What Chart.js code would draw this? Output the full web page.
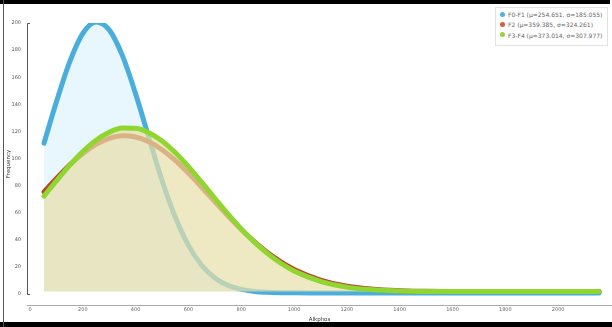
<!DOCTYPE html>
<html>
<head>
<meta charset="utf-8">
<script src="https://cdn.jsdelivr.net/npm/chart.js@4/dist/chart.umd.min.js"></script>
<style>
  html, body { margin: 0; padding: 0; background: #fff; }
  #wrap { position: relative; width: 612px; height: 327px; overflow: hidden; background: #fff; }
  #c { position: absolute; left: 0; top: 0; }
  .bar { position: absolute; background: #000; }
  #legend { position: absolute; left: 495px; top: 7px; width: 113px; height: 39px; border: 1px solid #e2e2e2; background: #fff; box-sizing: border-box; font-family: "DejaVu Sans", sans-serif; font-size: 6px; color: #666; }
  .item { position: absolute; left: 4px; height: 8px; line-height: 8px; white-space: nowrap; }
  .dot { display: inline-block; width: 5px; height: 5px; border-radius: 50%; vertical-align: middle; margin-right: 3px; position: relative; top: -1px; }
</style>
</head>
<body>
<div id="wrap">
  <canvas id="c" width="612" height="327"></canvas>
  <div id="legend"></div>
  <div class="bar" style="left:0;top:0;width:610px;height:4px;"></div>
  <div class="bar" style="left:0;top:322px;width:612px;height:5px;"></div>
  <div class="bar" style="left:3px;top:0;width:1px;height:327px;background:#555;"></div>
</div>
<script>
const xValues = [53,100,150,200,250,300,350,400,450,500,550,600,650,700,750,800,850,900,950,1000,1100,1200,1300,1400,1500,1600,1800,2000,2155];
const seriesNames = ["F0-F1 (\u03bc=254.651, \u03c3=185.055)", "F2 (\u03bc=359.385, \u03c3=324.261)", "F3-F4 (\u03bc=373.014, \u03c3=307.977)"];
const blueValues = [111.3,141.9,171.2,192.3,200.7,194.9,175.9,147.7,115.4,83.8,56.8,35.9,21.2,11.9,6.4,3.4,1.9,1.3,1.0,0.85,0.8,0.8,0.8,0.8,0.8,0.8,0.8,0.8,0.8];
const redValues = [75.4,85.3,95.2,103.7,110.4,114.9,116.8,115.9,112.4,106.5,98.6,89.1,78.8,68.0,57.5,47.5,38.4,30.4,23.7,18.1,10.3,5.8,3.5,2.5,2.0,1.9,1.8,1.8,1.8];
const greenValues = [72.3,83.5,94.9,105.1,113.5,119.4,122.5,122.3,119.1,112.9,104.4,94.0,82.5,70.7,59.0,48.1,38.3,29.8,22.7,17.0,9.3,5.1,3.1,2.3,1.9,1.8,1.8,1.8,1.8];
const xTicks = [0,200,400,600,800,1000,1200,1400,1600,1800,2000];
const yTicks = [0,20,40,60,80,100,120,140,160,180,200];

const lineColors = ["#4aaedc", "#b8452c", "#8fd630"];
const legendColors = ["#4fb3e0", "#de5a3c", "#9ad43a"];

function pts(vals) { return xValues.map((x, i) => ({ x: x, y: vals[i] })); }

const base = { pointRadius: 0, borderWidth: 5, borderCapStyle: 'round', borderJoinStyle: 'round', cubicInterpolationMode: 'monotone' };

const datasets = [
  Object.assign({}, base, { label: seriesNames[0], data: pts(blueValues), borderColor: lineColors[0], backgroundColor: 'rgba(100,195,240,0.15)', fill: { value: 1.8 }, order: 3 }),
  Object.assign({}, base, { label: seriesNames[1], data: pts(redValues), borderColor: lineColors[1], fill: false, order: 2 }),
  Object.assign({}, base, { label: seriesNames[2], data: pts(greenValues), borderColor: lineColors[2], backgroundColor: 'rgba(232,224,170,0.71)', fill: { value: 1.8 }, order: 1 })
];

const axisPlugin = {
  id: 'yAxisLine',
  afterDraw(chart) {
    const ctx = chart.ctx, y = chart.scales.y, x0 = chart.chartArea.left;
    const top = y.getPixelForValue(200), bot = y.getPixelForValue(0);
    ctx.save();
    ctx.strokeStyle = '#555';
    ctx.lineWidth = 1;
    ctx.beginPath();
    ctx.moveTo(x0 + 3, top + 0.5); ctx.lineTo(x0 + 0.5, top + 0.5);
    ctx.lineTo(x0 + 0.5, bot + 0.5); ctx.lineTo(x0 + 3, bot + 0.5);
    ctx.stroke();
    ctx.restore();
  }
};

new Chart(document.getElementById('c'), {
  type: 'line',
  data: { datasets: datasets },
  plugins: [axisPlugin],
  options: {
    responsive: false,
    animation: false,
    layout: { padding: { top: 23, right: 0, left: 0, bottom: 0 } },
    plugins: {
      legend: { display: false },
      tooltip: { enabled: false },
      filler: { drawTime: 'beforeDatasetDraw' }
    },
    scales: {
      x: {
        type: 'linear', min: -11.4, max: 2204,
        afterBuildTicks: s => { s.ticks = xTicks.map(v => ({ value: v })); },
        afterFit: s => { s.height = 22; },
        grid: { display: false, drawTicks: false },
        border: { display: true, color: '#aaa', width: 1 },
        ticks: { padding: 2, color: '#666', font: { family: 'DejaVu Sans', size: 5 }, maxRotation: 0, autoSkip: false, callback: v => String(v) },
        title: { display: true, text: 'Alkphos', color: '#333', font: { family: 'DejaVu Sans', size: 5.5 }, padding: { top: 0, bottom: 4 } }
      },
      y: {
        type: 'linear', min: -8.1, max: 200,
        afterBuildTicks: s => { s.ticks = yTicks.map(v => ({ value: v })); },
        afterFit: s => { s.width = 27; },
        grid: { display: false, drawTicks: false },
        border: { display: false },
        ticks: { padding: 6, color: '#555', font: { family: 'DejaVu Sans', size: 5 }, callback: v => String(v) },
        title: { display: true, text: 'Frequency', color: '#333', font: { family: 'DejaVu Sans', size: 5.5 }, padding: { top: 5, bottom: 0 } }
      }
    }
  }
});

const legend = document.getElementById('legend');
seriesNames.forEach((name, i) => {
  const d = document.createElement('div');
  d.className = 'item';
  d.style.top = (3 + i * 10.3) + 'px';
  d.innerHTML = '<span class="dot" style="background:' + legendColors[i] + '"></span>';
  d.appendChild(document.createTextNode(name));
  legend.appendChild(d);
});
</script>
</body>
</html>
